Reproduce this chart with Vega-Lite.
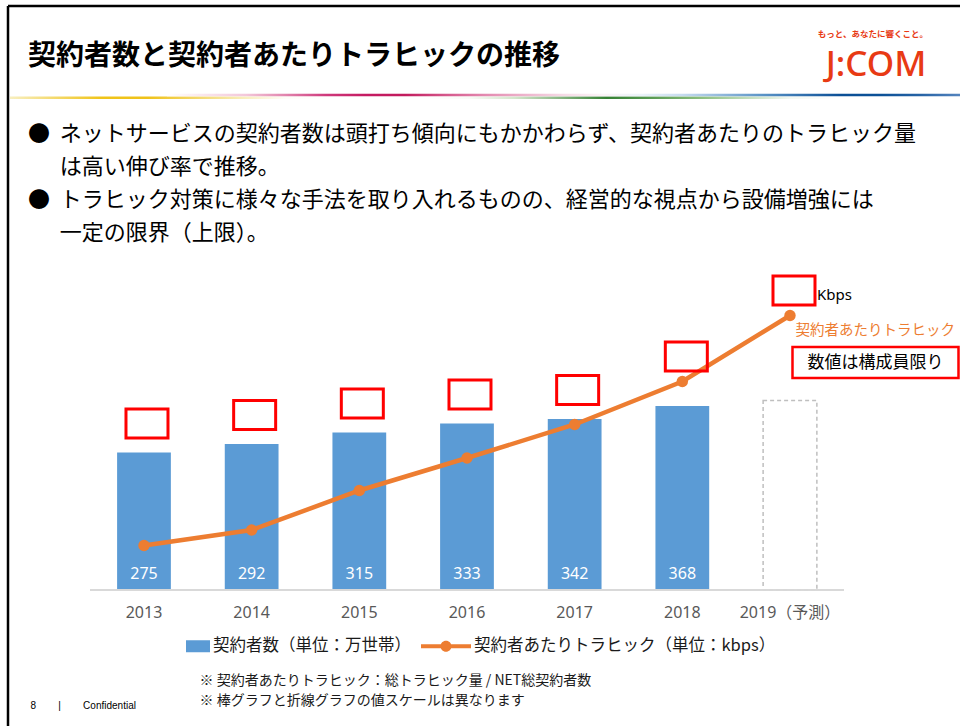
{
  "$schema": "https://vega.github.io/schema/vega-lite/v6.json",
  "width": 952,
  "height": 720,
  "autosize": {"type": "none"},
  "padding": {"left": 8, "top": 6, "right": 0, "bottom": 0},
  "background": "white",
  "config": {"view": {"stroke": "#000000", "strokeWidth": 2.5, "strokeDash": [952, 1672, 720, 0]}, "axis": {"grid": false}},
  "title": {
    "text": "契約者数と契約者あたりトラヒックの推移",
    "subtitle": [
      "●\u00a0\u00a0ネットサービスの契約者数は頭打ち傾向にもかかわらず、契約者あたりのトラヒック量",
      "\u200b\u3000\u00a0\u00a0は高い伸び率で推移。",
      "●\u00a0\u00a0トラヒック対策に様々な手法を取り入れるものの、経営的な視点から設備増強には",
      "\u200b\u3000\u00a0\u00a0一定の限界（上限）。"
    ],
    "anchor": "start",
    "frame": "group",
    "orient": "top",
    "offset": -238,
    "dx": 20,
    "font": "Noto Sans CJK JP",
    "fontSize": 28,
    "fontWeight": "bold",
    "color": "#000000",
    "subtitleFont": "Noto Sans CJK JP",
    "subtitleFontSize": 22,
    "subtitleColor": "#000000",
    "subtitleLineHeight": 33,
    "subtitlePadding": 53
  },
  "data": {
    "values": [
      {"year": "2013", "subs": 275, "traffic": 89},
      {"year": "2014", "subs": 292, "traffic": 120},
      {"year": "2015", "subs": 315, "traffic": 199},
      {"year": "2016", "subs": 333, "traffic": 264},
      {"year": "2017", "subs": 342, "traffic": 331},
      {"year": "2018", "subs": 368, "traffic": 417},
      {"year": "2019（予測）", "subs": null, "traffic": 549, "forecast": 379}
    ]
  },
  "encoding": {
    "x": {
      "field": "year",
      "type": "nominal",
      "sort": null,
      "scale": {"paddingInner": 0.158, "paddingOuter": 1, "align": 0.421},
      "axis": {
        "orient": "bottom",
        "offset": -136,
        "domain": false,
        "ticks": false,
        "labelAngle": 0,
        "labelPadding": 14,
        "labelFont": "Noto Sans, Noto Sans CJK JP",
        "labelFontSize": 16,
        "labelColor": "#595959",
        "title": [
          "※ 契約者あたりトラヒック：総トラヒック量 / NET総契約者数",
          "※ 棒グラフと折線グラフの値スケールは異なります"
        ],
        "titleX": 191,
        "titleY": 83,
        "titleAlign": "left",
        "titleBaseline": "top",
        "titleFont": "Noto Sans CJK JP",
        "titleFontSize": 14,
        "titleFontWeight": "normal",
        "titleLineHeight": 20,
        "titleColor": "#1a1a1a"
      }
    }
  },
  "layer": [
    {
      "transform": [{"filter": "isValid(datum.subs)"}],
      "mark": {"type": "bar", "width": {"band": 0.593}},
      "encoding": {
        "y": {
          "field": "subs",
          "type": "quantitative",
          "scale": {"domain": [-272, 1168], "nice": false, "zero": false},
          "axis": {
            "orient": "left",
            "labels": false,
            "ticks": false,
            "domain": false,
            "grid": false,
            "title": "8\u00a0\u00a0\u00a0\u00a0\u00a0\u00a0\u00a0\u00a0|\u00a0\u00a0\u00a0\u00a0\u00a0\u00a0\u00a0\u00a0Confidential",
            "titleAngle": 0,
            "titleX": 22,
            "titleY": 699,
            "titleAlign": "left",
            "titleBaseline": "middle",
            "titleFont": "Liberation Sans",
            "titleFontSize": 10,
            "titleFontWeight": "normal",
            "titleColor": "#000000"
          }
        },
        "color": {
          "datum": "契約者数（単位：万世帯）",
          "type": "nominal",
          "scale": {
            "domain": ["契約者数（単位：万世帯）", "契約者あたりトラヒック（単位：kbps）"],
            "range": ["#5B9BD5", "#ED7D31"]
          },
          "legend": {
            "orient": "none",
            "legendX": 152,
            "legendY": 615,
            "direction": "horizontal",
            "title": null,
            "symbolSize": 2500,
            "symbolStrokeWidth": 0,
            "labelFont": "Noto Sans CJK JP",
            "labelFontSize": 16.5,
            "labelColor": "#1a1a1a",
            "labelOffset": 3,
            "columnPadding": 10,
            "labelLimit": 400,
            "encode": {
              "symbols": {
                "update": {
                  "shape": {"signal": "datum.value == '契約者数（単位：万世帯）' ? 'M0.04,-0.24L1,-0.24L1,0.24L0.04,0.24Z' : 'M-1,-0.08L1,-0.08L1,0.08L-1,0.08Z M-0.22,0A0.22,0.22 0 1,1 0.22,0A0.22,0.22 0 1,1 -0.22,0Z'"},
                  "fill": {"scale": "color", "field": "value"},
                  "strokeWidth": {"value": 0},
                  "opacity": {"value": 1}
                }
              }
            }
          }
        }
      }
    },
    {
      "transform": [{"filter": "isValid(datum.forecast)"}],
      "mark": {"type": "bar", "width": {"band": 0.593}, "fill": "white", "stroke": "#BFBFBF", "strokeWidth": 1.5, "strokeDash": [4, 3]},
      "encoding": {
        "y": {"field": "forecast", "type": "quantitative", "axis": null}
      }
    },
    {
      "mark": {"type": "rule", "color": "#D9D9D9", "strokeWidth": 1.3},
      "encoding": {
        "x": {"datum": "2013", "type": "nominal", "bandPosition": -0.094},
        "x2": {"datum": "2019（予測）", "bandPosition": 1.095},
        "y": {"datum": 0, "type": "quantitative", "axis": null}
      }
    },
    {
      "transform": [{"filter": "isValid(datum.subs)"}],
      "mark": {"type": "text", "color": "white", "font": "Noto Sans", "fontSize": 16, "baseline": "middle", "dy": -16},
      "encoding": {
        "y": {"datum": 0, "type": "quantitative", "axis": null},
        "text": {"field": "subs", "type": "quantitative"}
      }
    },
    {
      "mark": {"type": "line", "strokeWidth": 4.5, "point": {"filled": true, "size": 130}},
      "encoding": {
        "y": {
          "field": "traffic",
          "type": "quantitative",
          "axis": {
            "orient": "right",
            "labels": false,
            "ticks": false,
            "domain": false,
            "grid": false,
            "title": "J:COM",
            "titleAngle": 0,
            "titleX": -84.5,
            "titleY": 58.5,
            "titleAlign": "center",
            "titleBaseline": "middle",
            "titleFont": "Noto Sans",
            "titleFontSize": 35,
            "titleFontWeight": 500,
            "titleColor": "#E83A14"
          }
        },
        "color": {"datum": "契約者あたりトラヒック（単位：kbps）", "type": "nominal"}
      }
    },
    {
      "transform": [{"filter": "isValid(datum.subs) && datum.year <= '2017'"}],
      "mark": {"type": "point", "shape": "M-1,-0.69L1,-0.69L1,0.69L-1,0.69Z", "size": 1764, "stroke": "#FF0000", "strokeWidth": 3, "fillOpacity": 0, "strokeOpacity": 1, "opacity": 1, "yOffset": -29, "xOffset": 3},
      "encoding": {
        "y": {"field": "subs", "type": "quantitative", "axis": null},
        "fill": {
          "field": "subs",
          "type": "quantitative",
          "scale": {
            "domain": [0, 0.098, 0.153, 0.25, 0.305, 0.49, 0.556, 0.654, 0.752, 0.861, 1],
            "range": ["#F8EFC0", "#F0C419", "#EFC21A", "#F8ECB5", "#FFFFFF", "#FFFFFF", "#CFE3C6", "#2E7D2E", "#8BBE7E", "#FFFFFF", "#FFFFFF"],
            "interpolate": "rgb"
          },
          "legend": {
            "orient": "none",
            "legendX": 2,
            "legendY": 24,
            "direction": "horizontal",
            "gradientLength": 918,
            "gradientThickness": 2.5,
            "gradientStrokeWidth": 0,
            "tickCount": 40,
            "labelExpr": "''",
            "title": "もっと、あなたに響くこと。",
            "titleOrient": "top",
            "titleAnchor": "end",
            "titleAlign": "right",
            "titlePadding": 58,
            "titleFont": "Noto Sans CJK JP",
            "titleFontSize": 8.5,
            "titleFontWeight": "bold",
            "titleColor": "#E83A14"
          }
        }
      }
    },
    {
      "transform": [{"filter": "datum.year >= '2018'"}],
      "mark": {"type": "point", "shape": "M-1,-0.69L1,-0.69L1,0.69L-1,0.69Z", "size": 1764, "stroke": "#FF0000", "strokeWidth": 3, "fillOpacity": 0, "strokeOpacity": 1, "opacity": 1, "yOffset": -25, "xOffset": 4},
      "encoding": {
        "y": {"field": "traffic", "type": "quantitative", "axis": null},
        "fill": {
          "field": "traffic",
          "type": "quantitative",
          "scale": {
            "domain": [0, 0.105, 0.218, 0.294, 0.382, 0.496, 0.571, 0.647, 0.748, 0.849, 0.924, 1],
            "range": ["#FFFFFF", "#F2C4D8", "#C8206A", "#C01458", "#E07AA5", "#F5D8E5", "#FFFFFF", "#C9DDF0", "#5D95C8", "#0B4F96", "#0D5298", "#5584BE"],
            "interpolate": "rgb"
          },
          "legend": {
            "orient": "none",
            "legendX": 159,
            "legendY": 87.75,
            "direction": "horizontal",
            "gradientLength": 793,
            "gradientThickness": 2.5,
            "gradientStrokeWidth": 0,
            "tickCount": 40,
            "labelExpr": "''",
            "title": null
          }
        }
      }
    },
    {
      "transform": [{"filter": "datum.year >= '2019'"}],
      "mark": {"type": "text", "text": "Kbps", "font": "Noto Sans", "fontSize": 15, "color": "#000000", "align": "left", "baseline": "middle", "xOffset": 27, "yOffset": -21},
      "encoding": {"y": {"field": "traffic", "type": "quantitative", "axis": null}}
    },
    {
      "transform": [{"filter": "datum.year >= '2019'"}],
      "mark": {"type": "text", "text": "契約者あたりトラヒック", "font": "Noto Sans CJK JP", "fontSize": 14.5, "color": "#ED7D31", "align": "left", "baseline": "middle", "xOffset": 5.5, "yOffset": 15},
      "encoding": {"y": {"field": "traffic", "type": "quantitative", "axis": null}}
    },
    {
      "transform": [{"filter": "datum.year >= '2019'"}],
      "mark": {"type": "point", "shape": "M-1,-0.187L1,-0.187L1,0.187L-1,0.187Z", "size": 27556, "stroke": "#FF0000", "strokeWidth": 2.5, "fill": "white", "filled": true, "fillOpacity": 1, "opacity": 1, "xOffset": 85.5, "yOffset": 47},
      "encoding": {"y": {"field": "traffic", "type": "quantitative", "axis": null}}
    },
    {
      "transform": [{"filter": "datum.year >= '2019'"}],
      "mark": {"type": "text", "text": "数値は構成員限り", "font": "Noto Sans CJK JP", "fontSize": 17, "color": "#000000", "align": "center", "baseline": "middle", "xOffset": 85.5, "yOffset": 47},
      "encoding": {"y": {"field": "traffic", "type": "quantitative", "axis": null}}
    }
  ],
  "resolve": {"scale": {"fill": "independent"}, "axis": {"y": "independent"}}
}
